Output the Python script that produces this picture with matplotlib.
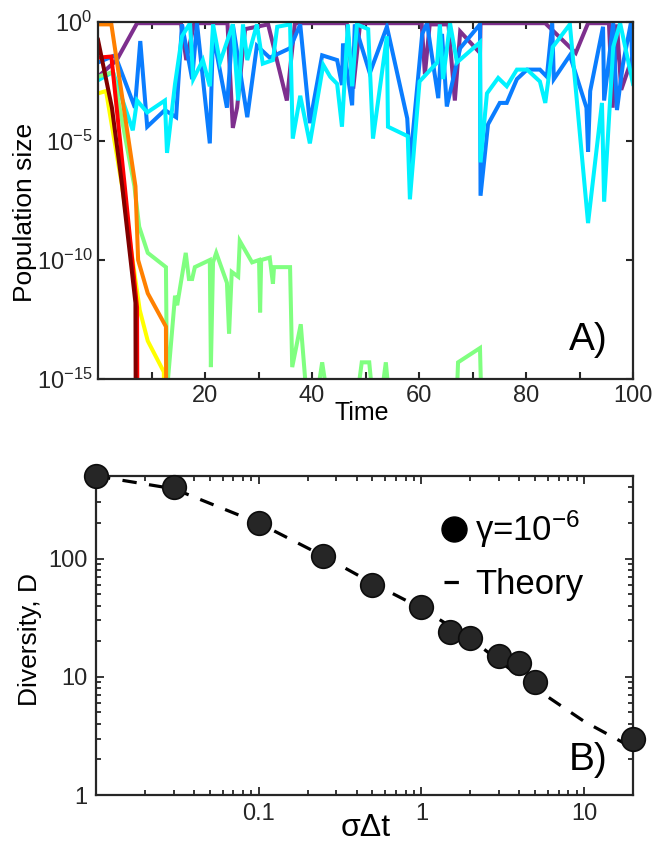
import numpy as np
import matplotlib
matplotlib.use("Agg")
import matplotlib.pyplot as plt
from matplotlib.lines import Line2D

plt.rcParams['font.family'] = ['Liberation Sans', 'DejaVu Sans']
plt.rcParams['mathtext.fontset'] = 'custom'
plt.rcParams['mathtext.rm'] = 'Liberation Sans'
plt.rcParams['mathtext.it'] = 'Liberation Sans'
plt.rcParams['mathtext.default'] = 'regular'

# ---------------- Panel A data (time, log10 population size) ----------------
purple_t = [0, 3.5, 7.3, 13.5, 15.5, 16.5, 18.0, 24.2, 25.2, 26.0, 27.5, 31.8, 35.3, 36.8, 46.5, 47.7, 49.0,
            60.5, 61.1, 62.0, 65.5, 66.7, 67.7, 71.4, 71.5, 83.6, 89.3, 91.6, 95.5, 96.2, 97.0, 97.8, 100]
purple_e = [-2.3, -1.6, -0.05, -0.05, -0.05, -1.6, -0.05, -0.05, -4.45, -3.6, -0.3, -0.1, -3.3, -0.05, -0.05, -2.8, -0.05,
            -0.05, -2.2, -0.1, -0.1, -3.3, -0.4, -1.3, -0.05, -0.05, -1.3, -0.05, -0.05, -3.6, -0.1, -2.85, -1.4]

blue_t = [0, 3.2, 6.9, 7.9, 9.2, 12.5, 14.6, 15.7, 17.6, 18.5, 20.9, 21.5, 24.1, 25.2, 27.9, 29.7, 32.1, 35.9, 37.8, 39.6,
          41.9, 44.7, 45.6, 45.8, 47.5, 48.0, 50.8, 54.0, 57.8, 58.3, 60.6, 61.5, 63.6, 64.3, 65.2, 67.7, 71.4, 71.5, 72.9, 75.1,
          76.4, 78.3, 80.2, 82.6, 83.9, 84.9, 85.2, 88.2, 91.3, 91.6, 92.0, 94.4, 94.6, 96.3, 97.0, 98.1, 99.6, 100]
blue_e = [-1.7, -1.4, -3.6, -0.8, -4.4, -3.7, -4.0, -0.1, -2.4, -0.05, -5.1, -0.5, -3.6, -0.1, -4.0, -1.0, -1.5, -1.1, -0.1, -4.25,
          -1.4, -1.6, -2.65, -0.9, -3.5, -0.1, -2.15, -0.2, -4.05, -6.0, -0.5, -0.05, -3.2, -0.5, -3.55, -1.1, -0.1, -7.3, -4.3, -3.4,
          -3.4, -2.4, -2.0, -2.0, -2.3, -0.05, -2.4, -1.4, -3.6, -5.45, -2.9, -0.2, -3.3, -0.05, -3.7, -1.8, -0.05, -2.5]

cyan_t = [0, 2.8, 6.5, 7.3, 9.2, 12.5, 12.9, 14.4, 15.7, 17.2, 17.8, 19.6, 20.9, 21.5, 22.8, 25.2, 26.2, 27.1, 27.9, 29.7,
          30.8, 32.7, 33.5, 35.9, 36.4, 37.8, 39.6, 42.1, 43.4, 44.7, 45.6, 46.7, 47.5, 48.4, 50.5, 51.4, 54.0, 54.2, 57.9, 58.3,
          60.1, 63.4, 63.9, 64.5, 65.8, 67.1, 71.4, 71.5, 72.7, 74.8, 76.4, 78.3, 80.2, 82.6, 83.6, 85.0, 88.2, 91.6, 94.2, 94.6,
          96.3, 97.6, 100]
cyan_e = [-2.45, -2.1, -4.55, -3.3, -3.8, -3.3, -5.5, -2.6, -0.6, -0.05, -2.4, -1.6, -2.7, -0.1, -1.7, -0.1, -3.3, -0.1, -1.6, -0.1,
          -1.75, -1.6, -0.2, -0.1, -4.9, -3.1, -5.1, -1.8, -2.3, -2.6, -4.4, -0.1, -2.7, -0.1, -0.3, -4.9, -0.6, -4.4, -4.8, -7.45,
          -2.5, -1.7, -0.1, -2.4, -0.05, -1.7, -0.85, -5.9, -3.0, -2.35, -2.7, -2.0, -2.0, -2.5, -3.4, -1.05, -0.1, -8.45, -3.4, -7.55,
          -1.05, -0.05, -2.6]

green_t = [0, 2.8, 6.8, 7.7, 9.3, 12.7, 12.9, 14.4, 14.8, 16.4, 17.0, 17.6, 18.1, 20.9, 21.1, 21.5, 22.1, 24.1, 24.5, 25.0,
           26.2, 26.5, 28.8, 30.1, 30.3, 30.5, 32.1, 32.7, 32.9, 35.9, 36.3, 37.9, 38.9, 41.1, 41.9, 42.7, 48.6, 49.3, 50.7, 51.2,
           53.1, 53.8, 54.3, 67.1, 67.3, 71.4, 71.6]
green_e = [-2.3, -2.1, -6.9, -8.6, -9.7, -10.3, -15.5, -11.5, -11.9, -9.7, -10.8, -10.8, -10.3, -10.0, -14.5, -10.1, -9.7, -10.96, -13.1, -10.5,
           -10.7, -9.2, -10.1, -10.0, -12.2, -10.0, -9.9, -11.0, -10.3, -10.3, -14.5, -12.7, -15.5, -15.5, -14.3, -15.5, -15.5, -14.3, -14.3, -15.5,
           -15.5, -14.3, -15.5, -15.5, -14.3, -13.7, -15.5]

yellow_t = [0, 1.5, 4.5, 7.8, 9.3, 12.3, 12.4]
yellow_e = [-3.0, -2.9, -6.9, -12.1, -13.4, -14.7, -16]

orange_t = [0, 2.5, 7.0, 7.5, 9.3, 12.7, 12.75]
orange_e = [-0.1, -0.1, -6.9, -10.0, -11.4, -12.8, -16]

red_t = [0, 2.5, 5.0, 7.3, 7.35]
red_e = [-1.5, -1.45, -6.9, -12.0, -16]

darkred_t = [0, 2.6, 4.5, 7.0, 7.05]
darkred_e = [-0.75, -3.6, -6.85, -11.8, -16]

# ---------------- Panel B data ----------------
sim_x = [0.01, 0.03, 0.1, 0.25, 0.5, 1, 1.5, 2, 3, 4, 5, 20]
sim_D = [500, 400, 200, 105, 60, 39, 24, 21.5, 15, 13, 9, 3]
theory_x = [0.01, 0.03, 0.1, 0.25, 0.5, 1, 2, 5, 10, 20]
theory_D = [500, 390, 200, 105, 62, 38, 21, 8, 4.2, 2.5]

W, H = 655, 842
fig = plt.figure(figsize=(W / 100, H / 100), dpi=100)
axc = '#262626'

def px_axes(l, t, r, b):
    return fig.add_axes([l / W, 1 - b / H, (r - l) / W, (b - t) / H])

# ---------------- Panel A ----------------
ax1 = px_axes(98, 22, 633, 379)
series = [
    (purple_t, purple_e, '#7E2F8E'),
    (blue_t, blue_e, '#0A7DFF'),
    (cyan_t, cyan_e, '#00F2FF'),
    (green_t, green_e, '#80FF80'),
    (yellow_t, yellow_e, '#FFFF00'),
    (orange_t, orange_e, '#FF8000'),
    (red_t, red_e, '#FF0000'),
    (darkred_t, darkred_e, '#800000'),
]
for t, e, c in series:
    ax1.plot(t, 10.0 ** np.array(e), color=c, lw=2.9, solid_joinstyle='miter')
ax1.set_yscale('log')
ax1.set_xlim(0, 100)
ax1.set_ylim(1e-15, 1e0)
ax1.set_xticks(np.arange(10, 101, 10))
ax1.set_xticklabels(['' if v % 20 else str(v) for v in range(10, 101, 10)])
ax1.set_yticks([1e-15, 1e-10, 1e-5, 1e0])
ax1.set_yticklabels([r'$10^{-15}$', r'$10^{-10}$', r'$10^{-5}$', r'$10^{0}$'])
ax1.yaxis.set_minor_locator(matplotlib.ticker.NullLocator())
ax1.tick_params(direction='in', top=True, right=True, length=5, width=1.5, color=axc,
                labelsize=17, labelcolor=axc, pad=4)
for s in ax1.spines.values():
    s.set_linewidth(1.6)
    s.set_color(axc)
fig.text(588 / W, 1 - 340 / H, 'A)', fontsize=28, ha='center', va='center')
fig.text(362 / W, 1 - 413 / H, 'Time', fontsize=18, ha='center', va='center')
fig.text(25 / W, 1 - 212 / H, 'Population size', fontsize=19, ha='center', va='center', rotation=90)

# ---------------- Panel B ----------------
ax2 = px_axes(96, 476, 633, 795)
ax2.plot(theory_x, theory_D, color='black', lw=2.3, ls='--', dashes=(4.5, 3.9))
ax2.plot(sim_x, sim_D, ls='none', marker='o', markersize=17, markerfacecolor='#262626',
         markeredgecolor='#0d0d0d', markeredgewidth=1.2, clip_on=False, zorder=3)
ax2.set_xscale('log')
ax2.set_yscale('log')
ax2.set_xlim(0.01, 20)
ax2.set_ylim(1, 500)
ax2.set_xticks([0.1, 1, 10])
ax2.set_xticklabels(['0.1', '1', '10'])
ax2.set_yticks([1, 10, 100])
ax2.set_yticklabels(['1', '10', '100'])
ax2.tick_params(which='both', direction='in', top=True, right=True, color=axc, width=1.3)
ax2.tick_params(which='major', length=6, labelsize=17, labelcolor=axc, pad=6)
ax2.tick_params(which='minor', length=3.5)
for s in ax2.spines.values():
    s.set_linewidth(1.6)
    s.set_color(axc)
handles = [Line2D([], [], ls='none', marker='o', markersize=18, color='black'),
           Line2D([], [], color='black', lw=2.3, ls='--', dashes=(4.5, 3.9))]
ax2.legend(handles, [r'$\gamma$=10$^{-6}$', 'Theory'], loc='upper left',
           bbox_to_anchor=(0.648, 0.897), frameon=False, fontsize=25, handlelength=0.6,
           handletextpad=0.3, labelspacing=0.52, borderpad=0, borderaxespad=0)
fig.text(588 / W, 1 - 760 / H, 'B)', fontsize=28, ha='center', va='center')
fig.text(366 / W, 1 - 828 / H, 'σΔt', fontsize=23, ha='center', va='center')
fig.text(30 / W, 1 - 640 / H, 'Diversity, D', fontsize=19, ha='center', va='center', rotation=90)

fig.savefig('out.png', dpi=100)
